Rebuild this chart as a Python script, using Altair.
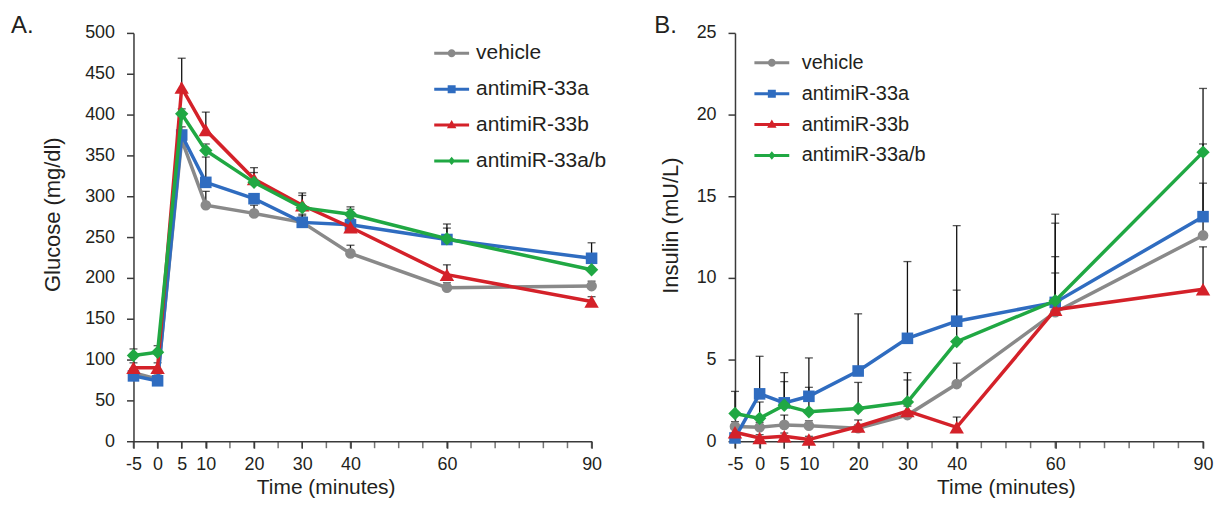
import altair as alt
import pandas as pd

# ---------------- data ----------------
times = [-5, 0, 5, 10, 20, 30, 40, 60, 90]
tick_labels = [-5, 0, 5, 10, 20, 30, 40, 60, 90]
minor_ticks = list(range(-5, 95, 5))
series = ["vehicle", "antimiR-33a", "antimiR-33b", "antimiR-33a/b"]
colors = ["#898989", "#2f6cc0", "#d42129", "#20a843"]

# Panel A: glucose (mg/dl)
glu_vehicle = [84, 76, 369, 289, 279, 268, 230, 188, 190]
glu_33a = [80, 74, 375, 317, 297, 268, 265, 247, 224]
glu_33b = [90, 90, 433, 381, 321, 289, 262, 204, 171]
glu_33ab = [105, 109, 401, 356, 317, 286, 278, 248, 210]
glu_vehicle_err = [5, 5, 10, 17, 10, 8, 10, 6, 6]
glu_33a_err = [5, 5, 10, 31, 6, 10, 8, 14, 19]
glu_33b_err = [6, 6, 36, 22, 14, 15, 22, 12, 6]
glu_33ab_err = [8, 8, 6, 8, 12, 15, 9, 18, 8]

# Panel B: insulin (mU/L)
ins_vehicle = [0.9, 0.85, 1.0, 0.95, 0.8, 1.6, 3.5, 7.9, 12.6]
ins_33a = [0.2, 2.9, 2.35, 2.75, 4.3, 6.3, 7.35, 8.5, 13.75]
ins_33b = [0.55, 0.2, 0.3, 0.1, 0.9, 1.85, 0.85, 8.05, 9.3]
ins_33ab = [1.7, 1.4, 2.2, 1.8, 2.0, 2.4, 6.1, 8.6, 17.7]
ins_vehicle_err = [0.3, 0.3, 0.6, 0.3, 0.2, 2.15, 1.28, 5.45, 3.2]
ins_33a_err = [0.2, 2.3, 1.85, 2.35, 3.5, 4.7, 5.85, 5.4, 4.45]
ins_33b_err = [0.2, 0.2, 0.2, 0.2, 0.4, 0.3, 0.63, 2.25, 2.6]
ins_33ab_err = [1.35, 1.0, 1.45, 1.5, 1.6, 1.8, 3.15, 2.7, 3.9]


def long_df(vals, errs):
    rows = []
    for s, v, e in zip(series, vals, errs):
        for t, y, err in zip(times, v, e):
            rows.append({"time": t, "series": s, "value": y, "upper": y + err})
    return pd.DataFrame(rows)


df_a = long_df([glu_vehicle, glu_33a, glu_33b, glu_33ab],
               [glu_vehicle_err, glu_33a_err, glu_33b_err, glu_33ab_err])
df_b = long_df([ins_vehicle, ins_33a, ins_33b, ins_33ab],
               [ins_vehicle_err, ins_33a_err, ins_33b_err, ins_33ab_err])
df_ticks = pd.DataFrame({"time": minor_ticks})

FONT = "Liberation Sans"
TXT = "#231f20"
AX = "#3a3a3a"

shapes = ["circle", "square", "triangle-up", "diamond"]
sizes = [115, 135, 210, 180]
LINE = "M-3.5,-0.3H3.5V0.3H-3.5Z"
legend_paths = [
    LINE + "M0.8,0A0.8,0.8 0 1 1 -0.8,0A0.8,0.8 0 1 1 0.8,0Z",
    LINE + "M-0.8,-0.8H0.8V0.8H-0.8Z",
    LINE + "M0,-1L0.95,0.65H-0.95Z",
    LINE + "M0,-0.85L0.7,0L0,0.85L-0.7,0Z",
]

label_expr = "replace(datum.label, '\u2212', '-')"


def panel(df, ymax, ystep, ytitle, letter, width, x_title_x, y_title_y, y_title_pad,
          legX, legY, leg_font, leg_rowpad, leg_offset, title_dx):
    xscale = alt.Scale(domain=[-5, 90], nice=False, zero=False)
    yscale = alt.Scale(domain=[0, ymax], nice=False, zero=True)
    xenc = alt.X("time:Q", scale=xscale,
                 axis=alt.Axis(values=tick_labels, labelExpr=label_expr,
                               title="Time (minutes)", titleX=x_title_x,
                               labelOverlap=False, labelFlush=False))
    yenc = alt.Y("value:Q", scale=yscale,
                 axis=alt.Axis(values=list(range(0, ymax + ystep, ystep)),
                               title=ytitle, titleY=y_title_y, titlePadding=y_title_pad,
                               labelFlush=False, labelOverlap=False))
    base = alt.Chart(df)

    minor = alt.Chart(df_ticks).mark_tick(color=AX, thickness=1.5, size=7,
                                          orient="vertical", yOffset=3.5).encode(
        x="time:Q", y=alt.datum(0))
    err_rule = base.mark_rule(color="#111", strokeWidth=1.3).encode(
        x=xenc, y=yenc, y2="upper:Q")
    err_cap = base.mark_tick(color="#111", thickness=1.3, size=8,
                             orient="horizontal").encode(x="time:Q", y="upper:Q")
    layers = [minor, err_rule, err_cap]
    for s, c, sh, sz in zip(series, colors, shapes, sizes):
        sub = base.transform_filter(alt.datum.series == s)
        layers.append(sub.mark_line(strokeWidth=3.5, color=c).encode(
            x="time:Q", y="value:Q"))
        layers.append(sub.mark_point(filled=True, opacity=1, shape=sh, size=sz,
                                     color=c).encode(x="time:Q", y="value:Q"))

    legend_def = alt.Legend(title=None, orient="none", legendX=legX, legendY=legY,
                            labelFontSize=leg_font, labelFont=FONT, labelColor=TXT,
                            symbolSize=100, symbolStrokeWidth=0, symbolOpacity=1,
                            labelOffset=leg_offset, rowPadding=leg_rowpad, padding=0,
                            labelLimit=300)
    color_scale = alt.Scale(domain=series, range=colors)
    leg = base.transform_filter("false").mark_point(filled=True, opacity=1).encode(
        x="time:Q", y="value:Q",
        color=alt.Color("series:N", scale=color_scale, legend=legend_def, sort=series),
        shape=alt.Shape("series:N", scale=alt.Scale(domain=series, range=legend_paths),
                        legend=legend_def, sort=series))
    layers.append(leg)

    return alt.layer(*layers).properties(
        width=width, height=410,
        title=alt.TitleParams(letter, anchor="start", frame="bounds", fontSize=24,
                              fontWeight="normal", font="Liberation Sans", color=TXT,
                              dx=title_dx, offset=-14))


a = panel(df_a, 500, 50, "Glucose (mg/dl)", "A.", 460, 193, 182, 20,
          309, 10, 21, 14, 14, -31)
b = panel(df_b, 25, 5, "Insulin (mU/L)", "B.", 470, 272, 193, 14,
          27, 20, 20, 11, 20, -5)

chart = alt.hconcat(a, b, spacing=47).resolve_scale(
    color="independent", shape="independent"
).resolve_legend(color="independent", shape="independent").properties(
    padding={"left": 2, "top": 5, "right": 0, "bottom": 0}
).configure_view(stroke=None).configure_axis(
    grid=False, domainColor=AX, domainWidth=1.5, tickColor=AX, tickWidth=1.5,
    tickSize=7, labelFont=FONT, labelFontSize=18, labelColor=TXT, labelPadding=7,
    titleFont=FONT, titleFontSize=22, titleFontWeight="normal", titleColor=TXT,
).configure_axisY(labelPadding=12).configure_axisX(titlePadding=3, titleFontSize=21)

chart.save("out.html", embed_options={"renderer": "svg", "actions": False})
